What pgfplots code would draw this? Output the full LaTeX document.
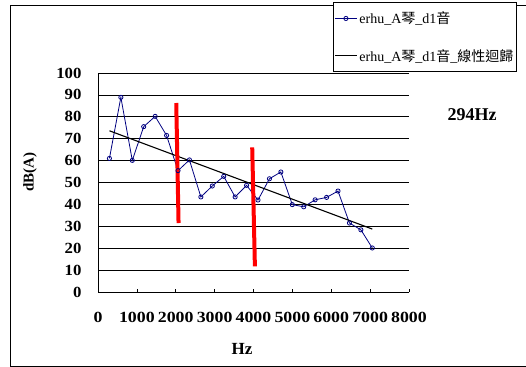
\documentclass[border=0pt]{standalone}
\usepackage{graphicx}
\usepackage{fontspec}
\setmainfont{Liberation Serif}
\newfontfamily\cjk{Noto Sans CJK TC}
\usepackage{pgfplots}
\usepackage{pgfplotstable}
\pgfplotsset{compat=1.18}

\definecolor{xlnavy}{RGB}{0,0,128}
\definecolor{xlred}{RGB}{255,0,0}

\pgfplotsset{
  markleg/.style={legend image code/.code={
    \draw[##1] (0bp,0bp) -- (22bp,0bp);
    \draw[##1] plot[only marks] coordinates {(11bp,0bp)};
  }},
  lineleg/.style={legend image code/.code={
    \draw[##1] (0bp,0bp) -- (22bp,0bp);
  }},
}

% harmonics of the d1 note (294 Hz) and their A-weighted levels
\pgfplotstableread{
x     y
294   61.0
588   88.9
882   60.1
1176  75.5
1470  80.2
1764  71.5
2058  55.4
2352  60.3
2646  43.4
2940  48.4
3234  52.8
3528  43.4
3822  48.7
4116  42.0
4410  51.7
4704  54.8
4998  39.9
5292  38.9
5586  42.1
5880  43.2
6174  46.1
6468  31.5
6762  28.4
7056  20.1
}\erhudata

\newcommand{\ticklbl}[1]{\fontsize{15.5bp}{15.5bp}\selectfont\bfseries #1}

\begin{document}
\begin{tikzpicture}
\useasboundingbox (0bp,0bp) rectangle (526bp,367bp);
% chart frame
\draw[black, line width=0.9bp] (526bp,362bp) -- (10bp,362bp) -- (10bp,1bp) -- (526bp,1bp);

\begin{axis}[
  at={(98bp,75bp)}, anchor=south west,
  scale only axis, width=311bp, height=219bp,
  xmin=0, xmax=8000, ymin=0, ymax=100,
  xtick={0,1000,...,8000}, ytick={0,10,...,100},
  axis x line*=bottom, axis y line*=left,
  axis line style={black, line width=0.9bp},
  tick align=inside, major tick length=3bp,
  tick style={black, line width=0.7bp},
  ymajorgrids, grid style={black, line width=0.6bp},
  scaled x ticks=false,
  /pgf/number format/1000 sep={},
  /pgf/number format/assume math mode=true,
  xticklabel={\scalebox{1.15}[1]{\ticklbl{\pgfmathprintnumber{\tick}}}},
  yticklabel={\scalebox{1.08}[1]{\ticklbl{\pgfmathprintnumber{\tick}}}},
  xticklabel style={yshift=-17bp},
  yticklabel style={xshift=-13bp},
  xlabel={\fontsize{17bp}{17bp}\selectfont\bfseries Hz},
  xlabel style={at={(axis description cs:0.463,-0.26)}, anchor=center},
  ylabel={\fontsize{15bp}{15bp}\selectfont\bfseries dB(A)},
  ylabel style={at={(axis description cs:-0.2186,0.548)}, anchor=center},
  legend cell align=left,
  legend style={
    at={(axis description cs:0.7556,1.005)}, anchor=south west,
    draw=black, line width=0.8bp, fill=white,
    font=\fontsize{14bp}{14bp}\selectfont,
    inner xsep=1bp, inner ysep=7bp, row sep=20bp,
    /tikz/every even column/.append style={column sep=1bp},
  },
]
% plot-area border on the right
\draw[gray!60, line width=0.9bp] (rel axis cs:1,0) -- (rel axis cs:1,1);

\addplot[xlnavy, line width=0.8bp, mark=o, mark size=2.1bp,
  mark options={xlnavy, fill=white, line width=0.8bp}, markleg]
  table[x=x, y=y] {\erhudata};
\addlegendentry{erhu\_A{\cjk 琴}\_d1{\cjk 音}}

\addplot[black, line width=1.1bp, lineleg]
  table[x=x, y={create col/linear regression={y=y}}] {\erhudata};
\addlegendentry{erhu\_A{\cjk 琴}\_d1{\cjk 音}\_{\cjk 線性迴歸}}

% band markers
\addplot[xlred, line width=4bp, forget plot] coordinates {(2013,86.3) (2072,31.5)};
\addplot[xlred, line width=4bp, forget plot] coordinates {(3967,66.0) (4036,11.7)};
\end{axis}

\node[font=\fontsize{18bp}{18bp}\selectfont\bfseries] at (472bp,252bp) {294Hz};
\end{tikzpicture}
\end{document}
